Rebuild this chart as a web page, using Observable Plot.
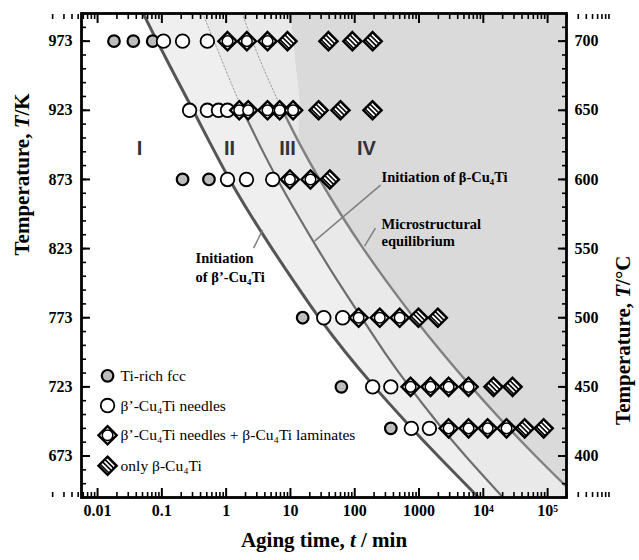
<!DOCTYPE html>
<html>
<head>
<meta charset="utf-8">
<script src="https://cdn.jsdelivr.net/npm/d3@7"></script>
<script src="https://cdn.jsdelivr.net/npm/@observablehq/plot@0.6"></script>
<style>
  body { margin: 0; background: #fff; }
  #chart { width: 639px; height: 560px; }
</style>
</head>
<body>
<div id="chart"></div>
<script>
// Aging temperatures (K) of the observed specimens, one row each
const temps = [973, 923, 873, 773, 723, 693];

// Aging times (min) at each temperature, grouped by observed microstructure
const fccTimes    = [[0.018, 0.036, 0.072], [], [0.21, 0.54], [15.5], [62], [364]];
const needleTimes = [[0.106, 0.21, 0.51], [0.27, 0.51, 0.76, 1.05], [1.05, 2.07, 5.3], [33, 65], [190, 364], [760, 1450]];
const mixedTimes  = [[1.05, 2.1, 4.4], [1.6, 2.2, 4.4, 6.8, 11], [9.8, 20.5], [115, 245, 500], [740, 1510, 2890, 5900], [2890, 5900, 11700, 23000]];
const betaTimes   = [[9, 39, 92, 190], [27.4, 60, 189], [41], [980, 1960], [14400, 28500], [44000, 87000]];

// Boundary curves: aging time (min) at each temperature level
const curveT         = [993, 973, 948, 923, 898, 873, 848, 823, 798, 773, 748, 723, 698, 673, 643];
const betaPrimeStart = [0.0514, 0.0842, 0.160, 0.306, 0.582, 1.13, 2.35, 5.17, 11.8, 27.9, 71.9, 203, 617, 1975, 8421];
const betaStart      = [0.430, 0.648, 1.07, 1.80, 3.31, 6.30, 12.7, 26.4, 57.0, 128, 291, 712, 1872, 5287, 20250];
const equilibrium    = [1.78, 2.57, 4.27, 7.55, 14.2, 28.4, 60.3, 136, 327, 834, 2257, 6508, 19950, 65060, 290800];
// left edge of the region IV shading
const regionIVEdge   = [10.0, 11.2, 12.7, 14.1, 14.2, 28.4, 60.3, 136, 327, 834, 2257, 6508, 19950, 65060, 290800];

// Axis ticks
const xMajor = [0.01, 0.1, 1, 10, 100, 1000, 1e4, 1e5];
const xMajorLabels = ["0.01", "0.1", "1", "10", "100", "1000", "10\u2074", "10\u2075"];
const kMajor = [673, 723, 773, 823, 873, 923, 973];
const cMajor = [400, 450, 500, 550, 600, 650, 700];

// Region labels and annotations
const regionNames = ["I", "II", "III", "IV"];
const regionTimes = [0.045, 1.13, 9.0, 152];
const legendNames = ["Ti-rich fcc", "\u03B2\u2019-Cu\u2084Ti needles", "\u03B2\u2019-Cu\u2084Ti needles + \u03B2-Cu\u2084Ti laminates", "only \u03B2-Cu\u2084Ti"];

const xMinor = [];
for (let e = -3; e <= 5; e++) for (let m = 2; m <= 9; m++) xMinor.push(m * 10 ** e);
const yMinor = d3.range(643, 994, 10);
const xLabel = d => xMajorLabels[xMajor.findIndex(v => Math.abs(Math.log10(v) - Math.log10(d)) < 1e-6)];

const pts = (times) => times.flatMap((row, i) => row.map(t => ({t, T: temps[i]})));
const curves = curveT.map((T, i) => ({T, a: betaPrimeStart[i], b: betaStart[i], c: equilibrium[i], e: regionIVEdge[i], d: 1e7}));
const upper = curves.filter(d => d.T >= 923);
const lower = curves.filter(d => d.T <= 923);

const serif = "'Liberation Serif', 'Times New Roman', serif";
const sans = "'Liberation Sans', Arial, sans-serif";

// legend placed at the lower left, rows spaced evenly in temperature
const legendT = [731, 709.5, 688, 666];
const legendX = 0.0143, legendTextX = 0.0228;

const shade = {II: "#efefef", III: "#e9e9e9", IV: "#dadada"};

const chart = Plot.plot({
  width: 639,
  height: 560,
  marginLeft: 81,
  marginRight: 73,
  marginTop: 13,
  marginBottom: 63,
  style: {fontFamily: serif, fontSize: "16px", fontWeight: "bold", color: "#000", background: "#fff"},
  x: {type: "log", domain: [10 ** -2.25, 10 ** 5.294], axis: null},
  y: {domain: [643, 993], axis: null},
  marks: [
    // shaded regions II, III, IV
    Plot.areaX(curves, {y: "T", x1: "a", x2: "b", fill: shade.II, curve: "natural", clip: true}),
    Plot.areaX(curves, {y: "T", x1: "b", x2: "e", fill: shade.III, curve: "natural", clip: true}),
    Plot.areaX(curves, {y: "T", x1: "e", x2: "d", fill: shade.IV, curve: "natural", clip: true}),

    // boundary curves
    Plot.line(curves, {x: "a", y: "T", stroke: "#555", strokeWidth: 3, curve: "natural", clip: true}),
    Plot.line(lower, {x: "b", y: "T", stroke: "#6e6e6e", strokeWidth: 2.2, curve: "natural", clip: true}),
    Plot.line(lower, {x: "c", y: "T", stroke: "#808080", strokeWidth: 2.4, curve: "natural", clip: true}),
    Plot.line(upper, {x: "b", y: "T", stroke: "#999", strokeWidth: 1, strokeDasharray: "1.5,2", curve: "natural", clip: true}),
    Plot.line(upper, {x: "c", y: "T", stroke: "#999", strokeWidth: 1, strokeDasharray: "1.5,2", curve: "natural", clip: true}),

    // leader lines
    Plot.link([{x1: 2.67, y1: 823.3, x2: 3.68, y2: 836.3}, {x1: 252, y1: 868.9, x2: 23.7, y2: 828.4}, {x1: 210, y1: 837.8, x2: 142, y2: 824.8}],
      {x1: "x1", y1: "y1", x2: "x2", y2: "y2", stroke: "#808080", strokeWidth: 1.5}),

    // region labels
    Plot.text(regionNames, {x: (d, i) => regionTimes[i], y: 895.6, text: d => d, fontFamily: sans, fontSize: 20, fontWeight: "bold", fill: "#333"}),

    // curve annotations
    Plot.text(["Initiation", "of \u03B2\u2019-Cu\u2084Ti"], {x: 0.334, y: (d, i) => [816.1, 802.4][i], text: d => d, textAnchor: "start", fontSize: 14.5}),
    Plot.text(["Initiation of \u03B2-Cu\u2084Ti"], {x: 261, y: 874.7, text: d => d, textAnchor: "start", fontSize: 14.5}),
    Plot.text(["Microstructural", "equilibrium"], {x: 261, y: (d, i) => [840.7, 828.4][i], text: d => d, textAnchor: "start", fontSize: 14.5}),

    // data points
    Plot.dot(pts(fccTimes), {x: "t", y: "T", r: 5.8, fill: "url(#fcc)", stroke: "#000", strokeWidth: 2.2}),
    Plot.dot(pts(needleTimes), {x: "t", y: "T", r: 6.8, fill: "#fff", stroke: "#000", strokeWidth: 1.8}),
    Plot.dot(pts(mixedTimes), {x: "t", y: "T", r: 8.2, symbol: "diamond2", fill: "#fff", stroke: "#000", strokeWidth: 2.4}),
    Plot.dot(pts(mixedTimes), {x: "t", y: "T", r: 5.3, fill: "#fff", stroke: "#000", strokeWidth: 1.5}),
    Plot.dot(pts(betaTimes), {x: "t", y: "T", r: 8.2, symbol: "diamond2", fill: "url(#hatch)", stroke: "#000", strokeWidth: 2.4}),

    // legend
    Plot.dot([0], {x: legendX, y: legendT[0], r: 5.8, fill: "url(#fcc)", stroke: "#000", strokeWidth: 2.2}),
    Plot.dot([0], {x: legendX, y: legendT[1], r: 6.8, fill: "#fff", stroke: "#000", strokeWidth: 1.8}),
    Plot.dot([0], {x: legendX, y: legendT[2], r: 8.2, symbol: "diamond2", fill: "#fff", stroke: "#000", strokeWidth: 2.4}),
    Plot.dot([0], {x: legendX, y: legendT[2], r: 5.3, fill: "#fff", stroke: "#000", strokeWidth: 1.5}),
    Plot.dot([0], {x: legendX, y: legendT[3], r: 8.2, symbol: "diamond2", fill: "url(#hatch)", stroke: "#000", strokeWidth: 2.4}),
    Plot.text(legendNames, {x: legendTextX, y: (d, i) => legendT[i], text: d => d, textAnchor: "start", fontWeight: "normal", fontSize: 15.5}),

    // frame
    Plot.frame({stroke: "#000", strokeWidth: 2.8}),

    // bottom / top axes: labels and inward ticks
    Plot.axisX(xMajor, {anchor: "bottom", tickSize: 0, tickPadding: 7, tickFormat: xLabel, label: null, fontSize: 16}),
    Plot.axisX(xMajor, {anchor: "bottom", tickSize: -9, strokeWidth: 2, fill: "none", label: null}),
    Plot.axisX(xMinor, {anchor: "bottom", tickSize: -5, strokeWidth: 1.6, fill: "none", label: null}),
    Plot.axisX(xMajor, {anchor: "top", tickSize: -9, strokeWidth: 2, fill: "none", label: null}),
    Plot.axisX(xMinor, {anchor: "top", tickSize: -5, strokeWidth: 1.6, fill: "none", label: null}),

    // left axis (K) and right axis (degrees C)
    Plot.axisY(kMajor, {anchor: "left", tickSize: 0, tickPadding: 9, label: null, fontSize: 16}),
    Plot.axisY(kMajor, {anchor: "left", tickSize: -9, strokeWidth: 2, fill: "none", label: null}),
    Plot.axisY(yMinor, {anchor: "left", tickSize: -5, strokeWidth: 1.6, fill: "none", label: null}),
    Plot.axisY(cMajor.map(c => c + 273), {anchor: "right", tickSize: 0, tickPadding: 8, tickFormat: d => d - 273, label: null, fontSize: 16}),
    Plot.axisY(cMajor.map(c => c + 273), {anchor: "right", tickSize: -9, strokeWidth: 2, fill: "none", label: null}),
    Plot.axisY(yMinor, {anchor: "right", tickSize: -5, strokeWidth: 1.6, fill: "none", label: null}),

    // axis titles
    Plot.text(["Aging time, t / min"], {frameAnchor: "bottom", dy: 49, text: d => d, fontSize: 21}),
    Plot.text(["Temperature, T/K"], {frameAnchor: "left", rotate: -90, dx: -59, text: d => d, fontSize: 21}),
    Plot.text(["Temperature, T/\u00B0C"], {frameAnchor: "right", rotate: -90, dx: 57, text: d => d, fontSize: 21})
  ]
});

// fill patterns for the textured markers
const svg = d3.select(chart);
const defs = svg.insert("defs", ":first-child");
const fcc = defs.append("pattern").attr("id", "fcc").attr("patternUnits", "userSpaceOnUse").attr("width", 3).attr("height", 3);
fcc.append("rect").attr("width", 3).attr("height", 3).attr("fill", "#e2e2e2");
fcc.append("rect").attr("width", 1.5).attr("height", 1.5).attr("fill", "#8a8a8a");
fcc.append("rect").attr("x", 1.5).attr("y", 1.5).attr("width", 1.5).attr("height", 1.5).attr("fill", "#a0a0a0");
const hatch = defs.append("pattern").attr("id", "hatch").attr("patternUnits", "userSpaceOnUse")
  .attr("width", 3.4).attr("height", 3.4).attr("patternTransform", "rotate(45)");
hatch.append("rect").attr("width", 3.4).attr("height", 3.4).attr("fill", "#fff");
hatch.append("rect").attr("width", 3.4).attr("height", 1.6).attr("fill", "#000");

// italic variable symbols in the axis titles
svg.selectAll("text").each(function () {
  const s = this.textContent;
  const parts = {
    "Aging time, t / min": ["Aging time, ", "t", " / min"],
    "Temperature, T/K": ["Temperature, ", "T", "/K"],
    "Temperature, T/\u00B0C": ["Temperature, ", "T", "/\u00B0C"]
  }[s];
  if (!parts) return;
  const el = d3.select(this);
  el.text(null);
  parts.forEach((p, i) => el.append("tspan").attr("font-style", i === 1 ? "italic" : null).text(p));
});

document.getElementById("chart").append(chart);
</script>
</body>
</html>
